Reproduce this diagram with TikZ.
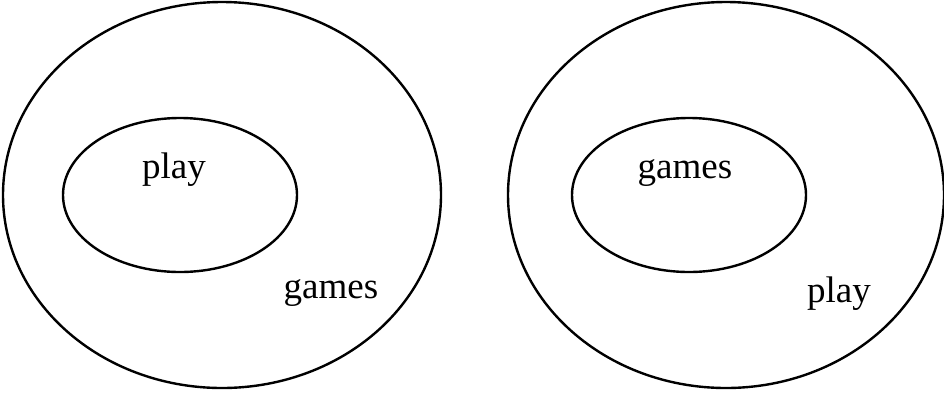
\documentclass[tikz,border=0pt]{standalone}
\usepackage{fontspec}
\setmainfont{Liberation Serif}
\usetikzlibrary{positioning}

\begin{document}
\begin{tikzpicture}[x=1pt, y=-1pt,
  ring/.style={draw, line width=2.4pt},
  lbl/.style={anchor=base, inner sep=0pt, font=\fontsize{37}{42}\selectfont}
]
\useasboundingbox (0,0) rectangle (944,392);
% Left: play inside games
\draw[ring] (222,195) ellipse [x radius=219, y radius=193];
\draw[ring] (180,195) ellipse [x radius=117, y radius=77];
\node[lbl] (lplay)  at (174,178) {play};
\node[lbl] (lgames) at (331,298) {games};
% Right: games inside play
\draw[ring] (726,195) ellipse [x radius=218, y radius=193];
\draw[ring] (689,195) ellipse [x radius=117, y radius=77];
\node[lbl] (rgames) at (685,178) {games};
\node[lbl] (rplay)  at (839,302) {play};
\end{tikzpicture}
\end{document}
